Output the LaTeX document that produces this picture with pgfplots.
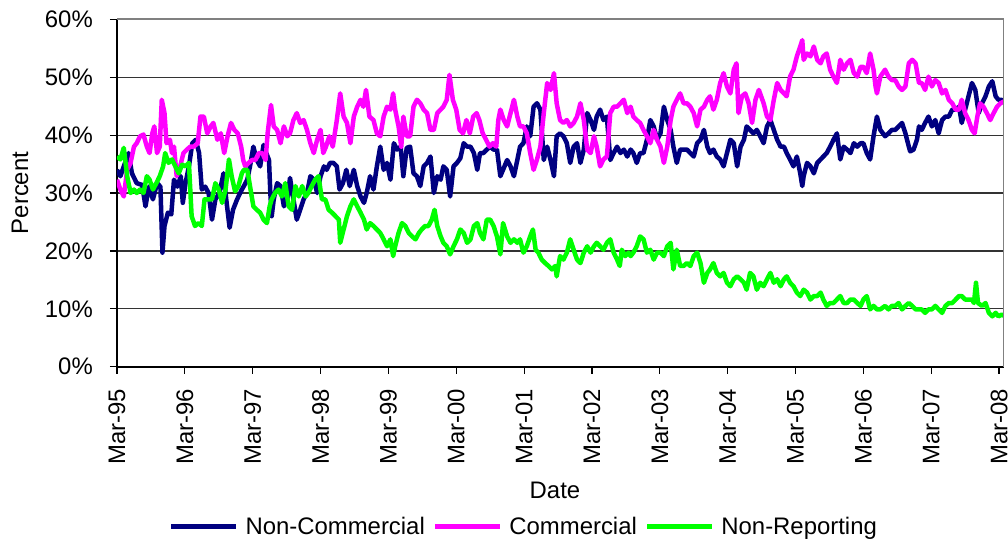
\documentclass[border=0pt]{standalone}
\usepackage{fontspec}
\setmainfont{Liberation Sans}
\usepackage{pgfplots}
\pgfplotsset{compat=1.18}
\definecolor{ncom}{HTML}{000080}
\definecolor{com}{HTML}{FF00FF}
\definecolor{nrep}{HTML}{00FF00}
\begin{document}
\begin{tikzpicture}[font=\fontsize{24}{28}\selectfont]
\begin{axis}[
  at={(0,0)}, anchor=south west,
  width=886.6bp, height=347.4bp, scale only axis,
  xmin=0, xmax=13.067, ymin=0, ymax=60,
  axis x line*=bottom, axis y line*=left,
  axis line style={black, line width=1.6bp},
  xtick={0,1,...,13},
  xticklabels={Mar-95,Mar-96,Mar-97,Mar-98,Mar-99,Mar-00,Mar-01,Mar-02,Mar-03,Mar-04,Mar-05,Mar-06,Mar-07,Mar-08},
  ytick={0,10,...,60},
  yticklabel={\pgfmathprintnumber{\tick}\%},
  /pgf/number format/assume math mode=true,
  tick align=outside, major tick length=7bp,
  tick style={black, line width=1.2bp},
  ymajorgrids, grid style={black!80, line width=1.2bp},
  every tick label/.append style={font=\fontsize{24}{28}\selectfont},
  xticklabel style={yshift=-15bp, rotate=90, anchor=east, inner sep=0pt},
  yticklabel style={xshift=-17bp, anchor=east, inner sep=0pt},
  ylabel={Percent}, xlabel={Date},
  ylabel style={at={(axis description cs:-0.1094,0.5)}, anchor=center, font=\fontsize{24}{28}\selectfont},
  xlabel style={at={(axis description cs:0.494,-0.355)}, anchor=center, font=\fontsize{24}{28}\selectfont},
  legend style={at={(axis description cs:0.4579,-0.4603)}, anchor=center, draw=none, fill=none,
    legend columns=-1, font=\fontsize{24}{28}\selectfont, nodes={inner sep=0pt},
    /tikz/every odd column/.append style={column sep=7bp},
    /tikz/every even column/.append style={column sep=8bp}},
  legend image code/.code={\draw[#1, line cap=butt] (0bp,0bp) -- (65bp,0bp);},
]
\addplot[ncom, line width=4.5bp, line join=round] coordinates {
(0.00,34.0)(0.05,32.9)(0.10,34.6)(0.17,36.9)(0.22,33.4)(0.29,31.7)(0.37,31.4)(0.42,27.7)(0.47,31.1)(0.53,28.9)(0.59,31.7)(0.64,31.1)(0.67,19.7)(0.70,24.3)(0.75,26.6)(0.80,26.3)(0.84,32.3)(0.89,31.1)(0.94,32.9)(0.97,28.3)(1.01,31.7)(1.06,34.6)(1.11,38.6)(1.16,39.2)(1.21,36.9)(1.25,30.6)(1.30,31.1)(1.35,30.0)(1.40,25.4)(1.45,28.9)(1.51,30.0)(1.57,33.4)(1.61,28.9)(1.66,24.0)(1.71,27.1)(1.77,28.9)(1.84,30.6)
(1.87,31.2)(1.92,32.3)(1.96,34.6)(2.01,38.0)(2.06,35.7)(2.11,34.6)(2.16,38.3)(2.20,36.9)(2.24,35.7)(2.26,30.0)(2.28,26.0)(2.31,28.9)(2.36,31.7)(2.41,31.2)(2.46,27.7)(2.51,28.9)(2.55,32.6)(2.60,28.9)(2.65,25.4)(2.70,27.1)(2.75,28.9)(2.80,30.0)(2.85,32.9)(2.90,32.3)(2.95,30.0)(3.00,32.9)(3.05,34.6)(3.09,34.0)(3.14,35.2)(3.19,35.2)(3.24,34.6)(3.28,30.6)(3.33,31.7)(3.38,34.0)(3.43,31.2)(3.49,34.0)(3.54,31.2)(3.59,29.4)(3.64,28.3)(3.68,30.0)
(3.73,32.9)(3.78,30.6)(3.83,34.6)(3.88,38.0)(3.93,34.0)(3.98,35.2)(4.03,32.3)(4.08,38.6)(4.13,37.5)(4.18,38.0)(4.22,32.9)(4.27,37.8)(4.32,38.0)(4.37,33.4)(4.42,32.9)(4.47,31.2)(4.52,34.6)(4.57,35.2)(4.62,36.3)(4.67,30.0)(4.72,32.9)(4.77,32.3)(4.81,34.6)(4.86,34.0)(4.91,29.4)(4.96,34.6)(5.01,35.2)(5.06,36.0)(5.11,38.6)(5.16,38.0)(5.21,38.0)(5.26,36.9)(5.31,34.0)(5.35,36.9)(5.40,36.9)(5.45,37.5)(5.50,38.0)(5.55,37.5)(5.60,37.5)(5.65,32.9)
(5.75,35.7)(5.80,34.6)(5.85,32.9)(5.90,35.7)(5.94,38.0)(5.99,38.6)(6.04,41.5)(6.09,39.8)(6.14,44.9)(6.19,45.5)(6.24,44.4)(6.29,35.7)(6.34,38.0)(6.39,35.7)(6.44,32.9)(6.48,39.8)(6.53,40.3)(6.58,39.8)(6.63,38.6)(6.68,35.2)(6.73,38.0)(6.78,38.6)(6.83,35.2)(6.88,37.5)(6.93,43.8)(6.98,42.6)(7.03,40.9)(7.07,43.2)(7.12,44.4)(7.17,42.6)(7.22,43.2)(7.27,35.7)(7.32,36.9)(7.37,38.0)(7.42,36.9)(7.47,37.5)(7.52,36.3)
(7.57,37.5)(7.61,36.9)(7.66,35.2)(7.71,36.9)(7.76,36.9)(7.81,39.2)(7.86,42.6)(7.91,41.5)(7.96,39.2)(8.01,40.3)(8.06,44.9)(8.11,42.6)(8.16,40.9)(8.20,38.0)(8.25,35.2)(8.30,37.5)(8.35,37.5)(8.40,37.5)(8.45,36.9)(8.50,36.3)(8.55,38.6)(8.60,39.2)(8.65,40.9)(8.70,38.0)(8.74,36.9)(8.79,37.5)(8.84,36.3)(8.89,35.8)(8.94,34.6)(8.99,36.9)(9.04,39.2)(9.09,38.6)(9.14,34.6)(9.19,38.0)(9.24,39.2)(9.28,41.5)(9.33,40.9)(9.38,40.3)(9.43,40.9)
(9.48,39.8)(9.53,38.6)(9.58,41.5)(9.63,42.6)(9.68,40.9)(9.73,39.2)(9.78,38.0)(9.83,38.0)(9.87,36.9)(9.92,35.8)(9.97,34.6)(10.02,36.3)(10.07,33.4)(10.10,31.2)(10.12,32.9)(10.17,35.2)(10.22,34.6)(10.27,33.4)(10.32,35.2)(10.37,35.8)(10.41,36.3)(10.46,36.9)(10.51,38.0)(10.56,39.2)(10.61,40.3)(10.66,35.8)(10.71,38.0)(10.76,37.5)(10.81,36.9)(10.86,38.6)(10.91,38.0)(10.96,38.6)(11.00,38.6)(11.05,36.9)(11.10,35.8)(11.15,39.8)(11.20,43.2)(11.25,40.9)
(11.32,39.8)(11.37,40.3)(11.42,40.9)(11.47,40.9)(11.52,41.5)(11.57,42.1)(11.62,40.3)(11.67,38.0)(11.69,37.2)(11.74,37.5)(11.79,39.2)(11.82,41.5)(11.86,40.9)(11.91,42.1)(11.96,43.2)(12.01,41.5)(12.06,42.6)(12.11,40.3)(12.16,42.6)(12.21,43.2)(12.26,43.2)(12.31,44.4)(12.36,44.4)(12.41,44.9)(12.45,42.1)(12.50,44.4)(12.55,46.7)(12.60,49.0)(12.65,47.8)(12.70,43.8)(12.75,45.5)(12.80,46.7)(12.85,48.4)(12.90,49.3)(12.95,46.7)(12.99,46.1)(13.04,46.1)(13.07,45.5)
};
\addlegendentry{Non-Commercial}
\addplot[com, line width=4.5bp, line join=round] coordinates {
(0.00,32.3)(0.05,30.6)(0.10,29.4)(0.15,34.0)(0.20,35.2)(0.25,38.0)(0.29,38.6)(0.34,39.8)(0.39,40.1)(0.44,38.0)(0.48,36.9)(0.52,40.3)(0.55,41.5)(0.59,36.9)(0.63,38.0)(0.66,46.1)(0.70,43.8)(0.73,38.6)(0.78,39.2)(0.81,36.9)(0.84,38.0)(0.88,32.9)(0.93,34.6)(0.98,36.9)(1.03,37.5)(1.08,38.0)(1.13,38.0)(1.19,38.6)(1.23,43.2)(1.28,43.2)(1.33,40.3)(1.38,41.5)(1.42,42.1)(1.48,39.2)(1.53,40.3)(1.58,36.9)(1.63,39.8)(1.68,42.1)(1.73,40.9)(1.78,40.3)(1.83,38.0)
(1.86,35.7)(1.89,34.6)(1.94,35.2)(1.99,35.7)(2.04,35.7)(2.09,36.9)(2.14,36.9)(2.19,35.7)(2.22,40.3)(2.27,45.2)(2.31,41.5)(2.36,40.9)(2.41,38.6)(2.46,41.5)(2.51,39.8)(2.55,40.3)(2.60,42.6)(2.65,43.8)(2.70,42.1)(2.75,42.6)(2.80,40.9)(2.85,38.6)(2.90,36.9)(2.95,39.2)(3.00,40.9)(3.04,36.9)(3.08,38.0)(3.13,39.8)(3.18,38.0)(3.24,42.6)(3.29,47.2)(3.34,43.2)(3.39,42.1)(3.44,38.6)(3.49,43.2)(3.54,44.9)(3.59,46.1)(3.63,44.9)(3.67,47.8)(3.72,43.2)
(3.78,42.6)(3.83,40.3)(3.88,39.8)(3.93,43.2)(3.98,44.9)(4.03,44.4)(4.07,47.2)(4.10,44.4)(4.15,41.5)(4.19,38.0)(4.22,43.2)(4.27,39.8)(4.32,39.8)(4.37,44.9)(4.42,46.1)(4.47,45.5)(4.52,44.4)(4.57,43.8)(4.62,40.9)(4.67,40.9)(4.72,43.8)(4.77,44.4)(4.81,44.9)(4.86,46.1)(4.90,50.4)(4.95,46.1)(5.00,44.4)(5.05,40.9)(5.10,40.3)(5.15,42.6)(5.20,40.3)(5.25,43.2)(5.30,43.8)(5.34,42.6)(5.39,40.3)(5.44,39.2)(5.49,38.0)(5.54,38.6)(5.59,38.0)(5.62,42.6)
(5.65,44.4)(5.70,42.6)(5.75,41.5)(5.80,43.8)(5.85,46.1)(5.90,43.2)(5.94,41.5)(5.99,41.5)(6.04,40.3)(6.09,36.9)(6.14,34.0)(6.19,35.8)(6.24,38.0)(6.29,43.8)(6.34,49.0)(6.39,47.8)(6.44,50.7)(6.48,45.5)(6.53,42.6)(6.58,42.1)(6.63,42.6)(6.68,41.5)(6.73,42.1)(6.78,43.2)(6.83,45.5)(6.88,42.6)(6.93,37.5)(6.98,36.9)(7.03,39.8)(7.07,38.0)(7.12,34.6)(7.17,35.8)(7.22,36.3)(7.27,43.8)(7.32,44.9)(7.37,44.9)(7.42,45.5)(7.47,46.1)(7.52,43.8)
(7.57,44.9)(7.61,43.2)(7.66,42.6)(7.71,42.1)(7.76,40.9)(7.81,39.8)(7.86,38.6)(7.91,40.9)(7.96,39.2)(8.01,38.0)(8.06,35.2)(8.11,38.0)(8.16,42.6)(8.20,44.9)(8.25,46.1)(8.30,47.2)(8.35,45.5)(8.40,45.5)(8.45,44.9)(8.50,43.8)(8.55,41.5)(8.60,44.4)(8.65,44.9)(8.70,46.1)(8.74,46.7)(8.79,44.4)(8.84,46.1)(8.89,49.0)(8.94,50.7)(8.99,48.4)(9.04,47.2)(9.09,51.3)(9.13,52.4)(9.16,43.8)(9.21,46.7)(9.26,47.2)(9.31,45.5)(9.36,42.1)(9.41,46.1)(9.46,47.8)
(9.53,45.5)(9.58,43.2)(9.63,42.6)(9.68,46.1)(9.73,49.0)(9.78,47.8)(9.83,47.2)(9.87,46.7)(9.92,50.1)(9.97,51.3)(10.02,53.6)(10.07,55.3)(10.10,56.4)(10.12,53.0)(10.17,54.1)(10.22,53.6)(10.27,55.3)(10.32,53.0)(10.37,52.4)(10.41,53.6)(10.46,54.1)(10.51,51.3)(10.56,50.1)(10.61,49.0)(10.66,53.0)(10.71,51.3)(10.76,52.4)(10.81,53.0)(10.86,50.7)(10.91,50.1)(10.96,51.8)(11.00,51.8)(11.05,50.7)(11.10,54.1)(11.15,51.3)(11.18,48.4)(11.20,47.2)(11.25,50.1)
(11.32,51.3)(11.37,50.1)(11.42,49.5)(11.47,49.5)(11.52,48.4)(11.57,47.8)(11.62,48.4)(11.67,52.4)(11.72,53.0)(11.77,52.4)(11.82,49.0)(11.86,49.0)(11.91,47.8)(11.96,50.1)(12.01,48.4)(12.06,49.5)(12.11,49.0)(12.16,47.2)(12.21,47.8)(12.26,46.1)(12.31,45.5)(12.36,44.4)(12.41,44.4)(12.45,46.1)(12.50,43.8)(12.55,42.6)(12.60,40.9)(12.64,40.3)(12.68,43.2)(12.72,45.5)(12.77,44.9)(12.82,43.8)(12.87,42.6)(12.92,43.8)(12.97,44.9)(13.02,45.5)(13.07,45.8)
};
\addlegendentry{Commercial}
\addplot[nrep, line width=4.5bp, line join=round] coordinates {
(0.00,36.3)(0.05,35.8)(0.10,37.8)(0.15,32.9)(0.20,30.0)(0.25,30.6)(0.29,30.0)(0.34,30.6)(0.39,30.0)(0.44,32.9)(0.48,32.3)(0.53,30.6)(0.58,31.7)(0.63,32.9)(0.68,34.6)(0.71,36.9)(0.76,35.2)(0.81,35.8)(0.86,34.6)(0.91,33.4)(0.96,34.9)(1.01,34.6)(1.06,35.2)(1.10,26.0)(1.15,24.3)(1.20,24.8)(1.25,24.3)(1.29,28.9)(1.35,28.9)(1.40,28.9)(1.45,31.7)(1.50,30.6)(1.55,28.3)(1.60,30.6)(1.65,35.8)(1.69,32.9)(1.74,30.3)(1.79,31.2)(1.84,33.4)
(1.87,34.0)(1.92,34.0)(1.96,31.2)(2.01,27.7)(2.06,27.1)(2.11,26.6)(2.16,25.4)(2.21,24.8)(2.25,27.7)(2.28,28.9)(2.33,30.0)(2.38,30.6)(2.43,29.4)(2.48,31.7)(2.53,27.7)(2.58,27.1)(2.63,31.2)(2.68,29.4)(2.73,31.2)(2.78,29.4)(2.82,30.0)(2.87,31.2)(2.92,32.3)(2.97,32.9)(3.02,28.9)(3.07,28.9)(3.12,27.1)(3.17,26.6)(3.22,26.0)(3.27,25.4)(3.29,21.4)(3.34,23.7)(3.39,26.0)(3.44,27.7)(3.49,28.9)(3.54,27.7)(3.59,26.6)(3.64,25.4)(3.68,23.7)
(3.73,24.8)(3.78,24.3)(3.83,23.7)(3.88,23.1)(3.93,22.0)(3.98,20.8)(4.03,22.0)(4.07,19.1)(4.10,20.8)(4.15,23.1)(4.20,24.8)(4.25,24.3)(4.30,23.1)(4.35,22.5)(4.40,22.0)(4.45,23.1)(4.49,23.7)(4.54,24.3)(4.59,24.3)(4.64,25.4)(4.68,27.1)(4.72,24.3)(4.77,22.5)(4.81,21.4)(4.86,20.8)(4.91,19.4)(4.96,20.8)(5.01,22.0)(5.06,23.7)(5.11,23.1)(5.16,21.4)(5.21,22.0)(5.26,24.3)(5.31,24.8)(5.35,23.1)(5.40,22.0)(5.45,25.4)(5.50,25.4)(5.55,24.3)(5.60,22.5)(5.65,19.4)(5.69,24.8)
(5.75,22.5)(5.80,21.4)(5.85,22.0)(5.90,21.4)(5.94,22.0)(5.99,19.7)(6.04,20.8)(6.09,22.5)(6.13,23.7)(6.17,20.2)(6.21,19.7)(6.26,18.5)(6.31,17.9)(6.36,17.4)(6.41,16.8)(6.46,17.4)(6.48,15.6)(6.53,19.1)(6.58,18.5)(6.63,19.7)(6.68,22.0)(6.73,20.2)(6.78,18.5)(6.83,17.9)(6.88,19.7)(6.93,20.8)(6.98,19.7)(7.03,20.8)(7.07,21.4)(7.12,20.8)(7.17,20.2)(7.22,21.4)(7.27,22.0)(7.32,19.7)(7.37,18.5)(7.41,17.4)(7.44,20.2)(7.49,19.1)(7.54,19.7)
(7.57,19.1)(7.61,19.7)(7.66,20.8)(7.71,22.5)(7.76,22.0)(7.81,19.7)(7.86,20.2)(7.91,18.5)(7.96,19.7)(8.01,19.7)(8.06,19.1)(8.11,20.8)(8.16,21.4)(8.20,16.8)(8.25,20.2)(8.30,17.4)(8.35,17.4)(8.40,17.9)(8.45,17.4)(8.50,19.1)(8.55,19.7)(8.60,17.9)(8.65,14.5)(8.70,16.2)(8.74,16.8)(8.79,17.9)(8.84,16.2)(8.89,15.6)(8.94,16.2)(8.99,14.5)(9.04,13.9)(9.09,15.1)(9.14,15.6)(9.19,15.1)(9.24,14.5)(9.28,13.3)(9.33,16.2)(9.38,15.6)(9.43,13.3)(9.48,14.5)
(9.53,13.9)(9.58,15.1)(9.63,16.2)(9.68,14.5)(9.73,15.1)(9.78,13.9)(9.83,15.1)(9.87,15.6)(9.92,14.5)(9.97,13.9)(10.02,12.8)(10.07,12.2)(10.12,13.3)(10.17,12.8)(10.22,11.6)(10.27,12.2)(10.32,12.2)(10.37,12.8)(10.41,11.6)(10.46,10.5)(10.51,11.0)(10.56,11.0)(10.61,11.6)(10.66,12.2)(10.71,11.0)(10.76,11.0)(10.81,11.6)(10.86,11.6)(10.91,11.0)(10.96,10.5)(11.00,11.6)(11.05,12.2)(11.10,9.9)(11.15,10.5)(11.20,9.9)(11.25,9.9)
(11.32,10.5)(11.37,9.9)(11.42,10.5)(11.47,10.5)(11.52,11.0)(11.57,9.9)(11.62,10.5)(11.67,11.0)(11.72,10.5)(11.77,9.9)(11.82,9.9)(11.86,9.9)(11.91,9.3)(11.96,9.9)(12.01,9.9)(12.06,10.5)(12.11,9.9)(12.16,9.3)(12.21,10.5)(12.26,11.0)(12.31,11.0)(12.36,11.6)(12.41,12.2)(12.45,12.2)(12.50,11.6)(12.55,11.6)(12.60,11.6)(12.63,11.0)(12.66,14.5)(12.69,11.0)(12.75,10.5)(12.80,11.0)(12.85,9.3)(12.90,8.7)(12.95,9.3)(12.99,8.7)(13.04,9.0)(13.07,8.8)
};
\addlegendentry{Non-Reporting}
\end{axis}
\draw[gray, line width=1.6bp] (0bp,347.4bp) -- (886.6bp,347.4bp) -- (886.6bp,0bp);
\pgfresetboundingbox
\path[use as bounding box] (-117bp,-179.3bp) rectangle (891bp,366.7bp);
\end{tikzpicture}
\end{document}
